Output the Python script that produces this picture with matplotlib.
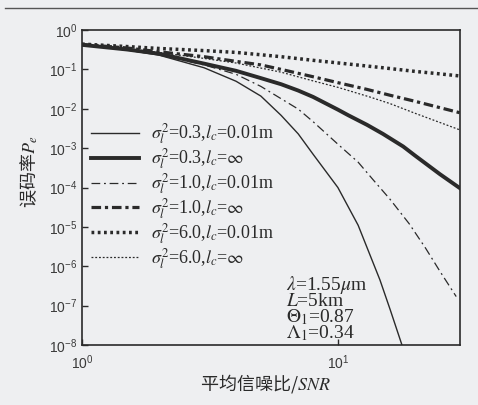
import matplotlib
matplotlib.use('Agg')
import matplotlib.pyplot as plt
from matplotlib.lines import Line2D

plt.rcParams['mathtext.fontset'] = 'stix'
plt.rcParams['font.family'] = ['Liberation Sans', 'DejaVu Sans']

# sigma^2 = 0.3, lc = 0.01 m
snr_a = [1, 1.5, 2, 3, 4, 5, 6, 7, 8, 10, 12, 14.6, 16, 17.8]
pe_a = [0.42, 0.31, 0.23, 0.11, 0.05, 0.021, 6.8e-3, 2.3e-3, 7e-4, 1e-4, 1.1e-5, 4.5e-7, 8e-8, 1e-8]
# sigma^2 = 0.3, lc = inf
snr_b = [1, 1.5, 2, 3, 4, 5, 6, 7, 8, 10, 11, 13, 15, 18, 20, 25, 30]
pe_b = [0.42, 0.32, 0.25, 0.14, 0.092, 0.06, 0.042, 0.029, 0.020, 9.5e-3, 6.8e-3, 3.9e-3, 2.3e-3, 1.1e-3, 6.5e-4, 2.2e-4, 9.6e-5]
# sigma^2 = 1.0, lc = 0.01 m
snr_c = [1, 1.5, 2, 3, 4, 5, 6, 7, 8, 10, 12, 13.7, 16, 19, 22, 25, 29]
pe_c = [0.42, 0.31, 0.235, 0.13, 0.075, 0.037, 0.018, 0.0098, 4.7e-3, 1.26e-3, 4.4e-4, 1.6e-4, 5e-5, 1.2e-5, 2.9e-6, 7.6e-7, 1.7e-7]
# sigma^2 = 1.0, lc = inf
snr_d = [1, 1.5, 2, 3, 4, 5, 6, 8, 10, 13, 16, 20, 25, 30]
pe_d = [0.43, 0.35, 0.28, 0.21, 0.16, 0.13, 0.10, 0.065, 0.046, 0.031, 0.022, 0.0155, 0.0107, 0.0079]
# sigma^2 = 6.0, lc = 0.01 m
snr_e = [1, 1.5, 2, 3, 4, 6, 8, 10, 15, 20, 25, 30]
pe_e = [0.44, 0.38, 0.34, 0.30, 0.27, 0.21, 0.17, 0.146, 0.11, 0.089, 0.077, 0.068]
# sigma^2 = 6.0, lc = inf
snr_f = [1, 1.5, 2, 3, 4, 6, 8, 10, 13.3, 16, 20, 25, 30]
pe_f = [0.42, 0.33, 0.27, 0.19, 0.145, 0.085, 0.051, 0.035, 0.020, 0.0135, 7.7e-3, 4.5e-3, 2.9e-3]

labels = [r'$\sigma_l^2$=0.3,$l_c$=0.01m',
          r'$\sigma_l^2$=0.3,$l_c$=$\infty$',
          r'$\sigma_l^2$=1.0,$l_c$=0.01m',
          r'$\sigma_l^2$=1.0,$l_c$=$\infty$',
          r'$\sigma_l^2$=6.0,$l_c$=0.01m',
          r'$\sigma_l^2$=6.0,$l_c$=$\infty$']
notes = [r'$\lambda$=1.55$\mu$m', r'$L$=5km', r'$\Theta_1$=0.87', r'$\Lambda_1$=0.34']

bg = '#eeeff1'
ink = '#2a2a2a'

fig = plt.figure(figsize=(4.78, 4.05), dpi=100, facecolor=bg)
ax = fig.add_axes([0.1715, 0.1481, 0.7908, 0.7778], facecolor=bg)

ax.plot(snr_a, pe_a, color=ink, lw=1.0, label=labels[0])
ax.plot(snr_b, pe_b, color=ink, lw=2.8, label=labels[1])
ax.plot(snr_c, pe_c, color=ink, lw=0.9, linestyle=(0, (7, 3, 1.5, 3)), label=labels[2])
ax.plot(snr_d, pe_d, color=ink, lw=2.3, linestyle=(0, (3, 1.2, 1, 1.2)), label=labels[3])
ax.plot(snr_e, pe_e, color=ink, lw=2.5, linestyle=(0, (0.8, 1.0)), label=labels[4])
ax.plot(snr_f, pe_f, color=ink, lw=0.9, linestyle=(0, (1.5, 1.5)), label=labels[5])

ax.set_xscale('log')
ax.set_yscale('log')
ax.set_xlim(1, 30)
ax.set_ylim(1e-8, 1)
ax.set_xticks([1, 10])
ax.set_yticks([10.0 ** k for k in range(0, -9, -1)])
ax.minorticks_off()
ax.tick_params(direction='in', length=4, width=1, colors=ink, labelsize=10,
               labelcolor='#3a3a3a', top=False, right=False)
ax.tick_params(axis='x', pad=6)
for s in ax.spines.values():
    s.set_color(ink)
    s.set_linewidth(1.2)

ax.set_ylabel('误码率$P_e$', family=['Noto Sans CJK SC', 'DejaVu Sans'],
              fontsize=13, color=ink)
ax.yaxis.set_label_coords(-0.11, 0.55)
ax.set_xlabel('平均信噪比/$SNR$', family=['Noto Sans CJK SC', 'DejaVu Sans'],
              fontsize=13, color=ink)
ax.xaxis.set_label_coords(0.485, -0.087)

leg = ax.legend(loc='upper left', bbox_to_anchor=(0.025, 0.71), frameon=False,
                prop={'family': 'Liberation Serif', 'size': 13},
                handlelength=2.65, handletextpad=0.65, labelspacing=0.0,
                borderpad=0, borderaxespad=0)
for t in leg.get_texts():
    t.set_color(ink)

ax.text(0.54, 0.225, '\n'.join(notes), transform=ax.transAxes,
        family='Liberation Serif', fontsize=14, color=ink,
        va='top', ha='left', linespacing=0.78)

# scan line at top of the page
fig.add_artist(Line2D([0.01, 1.0], [0.98, 0.98], color='#555555', lw=1))

fig.savefig('out.png', dpi=100, facecolor=bg)
